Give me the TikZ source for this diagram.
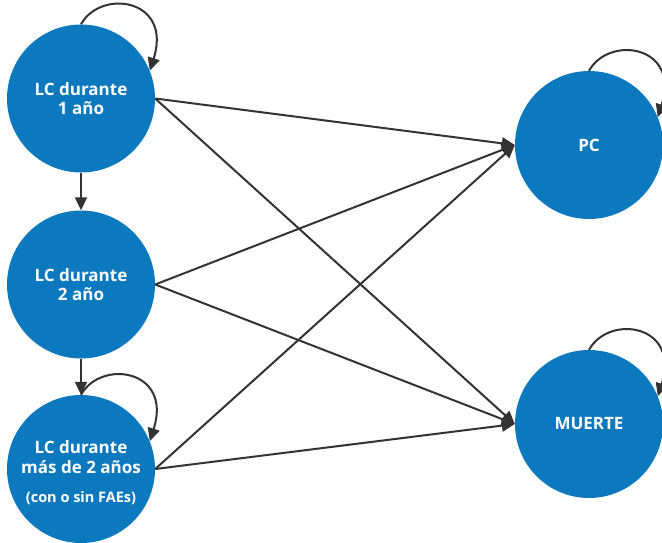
\documentclass[tikz,border=0pt]{standalone}
\usepackage{fontspec}
\setmainfont{Open Sans}
\usetikzlibrary{arrows.meta}
\definecolor{stateblue}{RGB}{12,120,190}
\definecolor{edgegray}{RGB}{51,51,51}
\begin{document}
\begin{tikzpicture}[x=1pt,y=-1pt,
  label/.style={text=white,font=\bfseries\fontsize{17}{19.5}\selectfont,align=center},
  state/.style={circle,fill=stateblue,draw=none,minimum size=148pt,inner sep=0pt,label},
  trans/.style={draw=edgegray,line width=2pt,
    -{Triangle[length=13pt,width=12pt]}},
  small/.style={text=white,font=\bfseries\fontsize{14.5}{16}\selectfont}]
  \useasboundingbox (0,0) rectangle (662,543);
  \clip (0,0) rectangle (662,543);

  % states
  \node[state] (lc1) at (81,98.5) {LC durante\\1 año};
  \node[state] (lc2) at (81,284.5) {LC durante\\2 año};
  \node[state] (lc3) at (81,469) {};
  \node[label,anchor=base] (lc3a) at (81,453) {LC durante};
  \node[label,anchor=base] (lc3b) at (81,473) {más de 2 años};
  \node[small,anchor=base] (lc3c) at (81,502) {(con o sin FAEs)};
  \node[state] (pc) at (589,145) {PC};
  \node[state] (dead) at (589,424) {MUERTE};

  % progression down the left column
  \draw[trans] (lc1.south) -- (lc2.north);
  \draw[trans] (lc2.south) -- (lc3.north);

  % transitions to the absorbing states
  \foreach \s in {lc1,lc2,lc3} {
    \draw[trans] (\s.east) -- (pc.west);
    \draw[trans] (\s.east) -- (dead.west);
  }

  % self-loops
  \foreach \s in {lc1,lc3,pc,dead} {
    \draw[trans] (\s.north) .. controls +(20,-36) and +(23,-72) .. (\s.22);
  }
\end{tikzpicture}
\end{document}
